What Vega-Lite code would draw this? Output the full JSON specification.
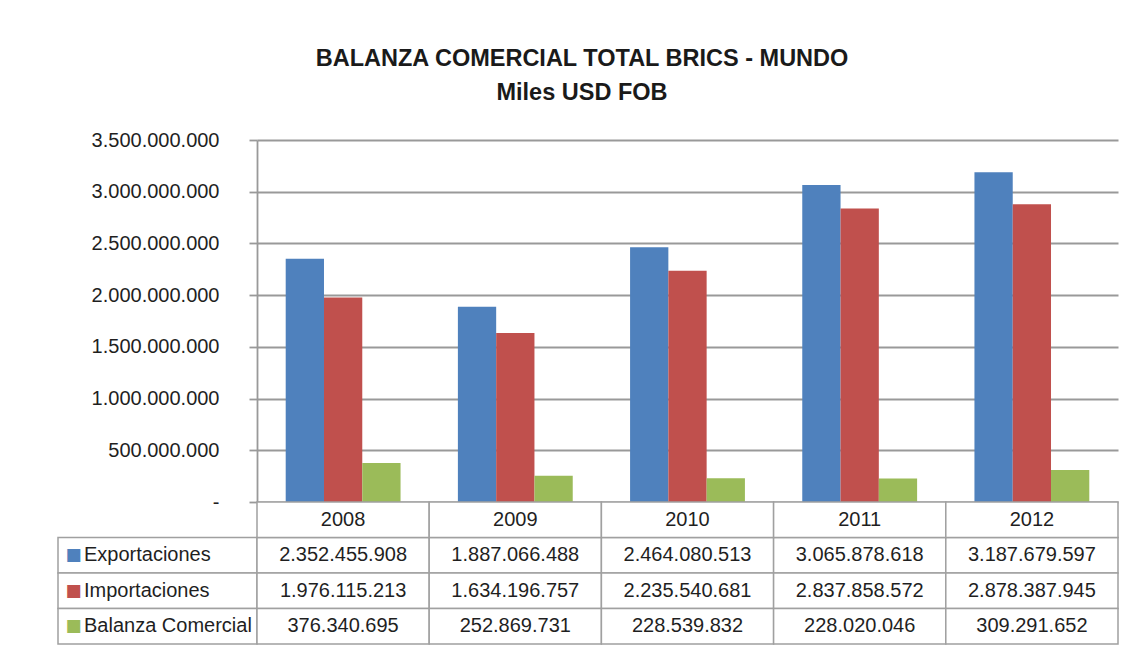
{
  "$schema": "https://vega.github.io/schema/vega-lite/v6.json",
  "background": "white",
  "padding": {"left": 57, "top": 46, "right": 16, "bottom": 7},
  "config": {
    "locale": {"number": {"decimal": ",", "thousands": ".", "grouping": [3], "currency": ["$", ""]}},
    "view": {"stroke": null},
    "font": "Liberation Sans",
    "text": {"font": "Liberation Sans", "fontSize": 20, "color": "#1f1f1f"}
  },
  "title": {
    "text": ["BALANZA COMERCIAL TOTAL BRICS - MUNDO", "Miles USD FOB"],
    "fontSize": 23.5,
    "fontWeight": "bold",
    "lineHeight": 34,
    "color": "#1a1a1a",
    "anchor": "middle",
    "dx": -6,
    "offset": 26
  },
  "datasets": {
    "trade": [
      {"year": "2008", "serie": "Exportaciones", "value": 2352455908},
      {"year": "2008", "serie": "Importaciones", "value": 1976115213},
      {"year": "2008", "serie": "Balanza Comercial", "value": 376340695},
      {"year": "2009", "serie": "Exportaciones", "value": 1887066488},
      {"year": "2009", "serie": "Importaciones", "value": 1634196757},
      {"year": "2009", "serie": "Balanza Comercial", "value": 252869731},
      {"year": "2010", "serie": "Exportaciones", "value": 2464080513},
      {"year": "2010", "serie": "Importaciones", "value": 2235540681},
      {"year": "2010", "serie": "Balanza Comercial", "value": 228539832},
      {"year": "2011", "serie": "Exportaciones", "value": 3065878618},
      {"year": "2011", "serie": "Importaciones", "value": 2837858572},
      {"year": "2011", "serie": "Balanza Comercial", "value": 228020046},
      {"year": "2012", "serie": "Exportaciones", "value": 3187679597},
      {"year": "2012", "serie": "Importaciones", "value": 2878387945},
      {"year": "2012", "serie": "Balanza Comercial", "value": 309291652}
    ]
  },
  "data": {"name": "trade"},
  "columns": 2,
  "spacing": 0,
  "bounds": "flush",
  "align": "each",
  "concat": [
    {
      "width": 199,
      "height": 362,
      "mark": {"type": "text", "text": ""},
      "encoding": {}
    },
    {
      "width": 861,
      "height": 362,
      "mark": {"type": "bar"},
      "encoding": {
        "x": {"field": "year", "type": "nominal", "scale": {"paddingInner": 0.333, "paddingOuter": 0.1667}, "axis": null},
        "xOffset": {"field": "serie", "type": "nominal", "scale": {"domain": ["Exportaciones", "Importaciones", "Balanza Comercial"]}},
        "y": {
          "field": "value",
          "type": "quantitative",
          "scale": {"domain": [0, 3500000000], "nice": false},
          "axis": {
            "title": null,
            "values": [0, 500000000, 1000000000, 1500000000, 2000000000, 2500000000, 3000000000, 3500000000],
            "labelExpr": "datum.value == 0 ? '-\u00a0\u00a0' : format(datum.value, ',')",
            "labelFontSize": 20,
            "labelColor": "#1f1f1f",
            "labelPadding": 30,
            "grid": true,
            "gridColor": "#999999",
            "gridWidth": 1.8,
            "domainColor": "#999999",
            "domainWidth": 1.8,
            "tickColor": "#999999",
            "tickWidth": 1.8,
            "tickSize": 8
          }
        },
        "color": {
          "field": "serie",
          "type": "nominal",
          "scale": {"domain": ["Exportaciones", "Importaciones", "Balanza Comercial"], "range": ["#4F81BD", "#C0504D", "#9BBB59"]},
          "legend": null
        }
      }
    },
    {
      "width": 199,
      "height": 142,
      "transform": [{"filter": "datum.year == '2008'"}],
      "encoding": {
        "y": {"field": "serie", "type": "nominal", "scale": {"domain": [" ", "Exportaciones", "Importaciones", "Balanza Comercial"], "paddingInner": 0, "paddingOuter": 0}, "axis": null}
      },
      "layer": [
        {"mark": {"type": "rect", "fill": "white", "stroke": "#a0a0a0", "strokeWidth": 1.5}},
        {
          "mark": {"type": "text", "text": "■", "font": "DejaVu Sans", "fontSize": 17, "align": "left", "dx": -92},
          "encoding": {
            "color": {
              "field": "serie",
              "type": "nominal",
              "scale": {"domain": ["Exportaciones", "Importaciones", "Balanza Comercial"], "range": ["#4F81BD", "#C0504D", "#9BBB59"]},
              "legend": null
            }
          }
        },
        {
          "mark": {"type": "text", "align": "left", "dx": -73.5},
          "encoding": {"text": {"field": "serie"}}
        }
      ]
    },
    {
      "width": 861,
      "height": 142,
      "encoding": {
        "x": {"field": "year", "type": "nominal", "scale": {"paddingInner": 0, "paddingOuter": 0}, "axis": null}
      },
      "layer": [
        {
          "mark": {"type": "rect", "fill": "white", "stroke": "#a0a0a0", "strokeWidth": 1.5},
          "encoding": {
            "y": {"field": "serie", "type": "nominal", "scale": {"domain": [" ", "Exportaciones", "Importaciones", "Balanza Comercial"], "paddingInner": 0, "paddingOuter": 0}, "axis": null}
          }
        },
        {
          "transform": [{"filter": "datum.serie == 'Exportaciones'"}],
          "mark": {"type": "rect", "fill": "white", "stroke": "#a0a0a0", "strokeWidth": 1.5},
          "encoding": {"y": {"datum": " ", "type": "nominal"}}
        },
        {
          "mark": {"type": "text"},
          "encoding": {
            "y": {"field": "serie", "type": "nominal"},
            "text": {"field": "value", "type": "quantitative", "format": ","}
          }
        },
        {
          "transform": [{"filter": "datum.serie == 'Exportaciones'"}],
          "mark": {"type": "text"},
          "encoding": {
            "y": {"datum": " ", "type": "nominal"},
            "text": {"field": "year", "type": "nominal"}
          }
        }
      ]
    }
  ]
}
